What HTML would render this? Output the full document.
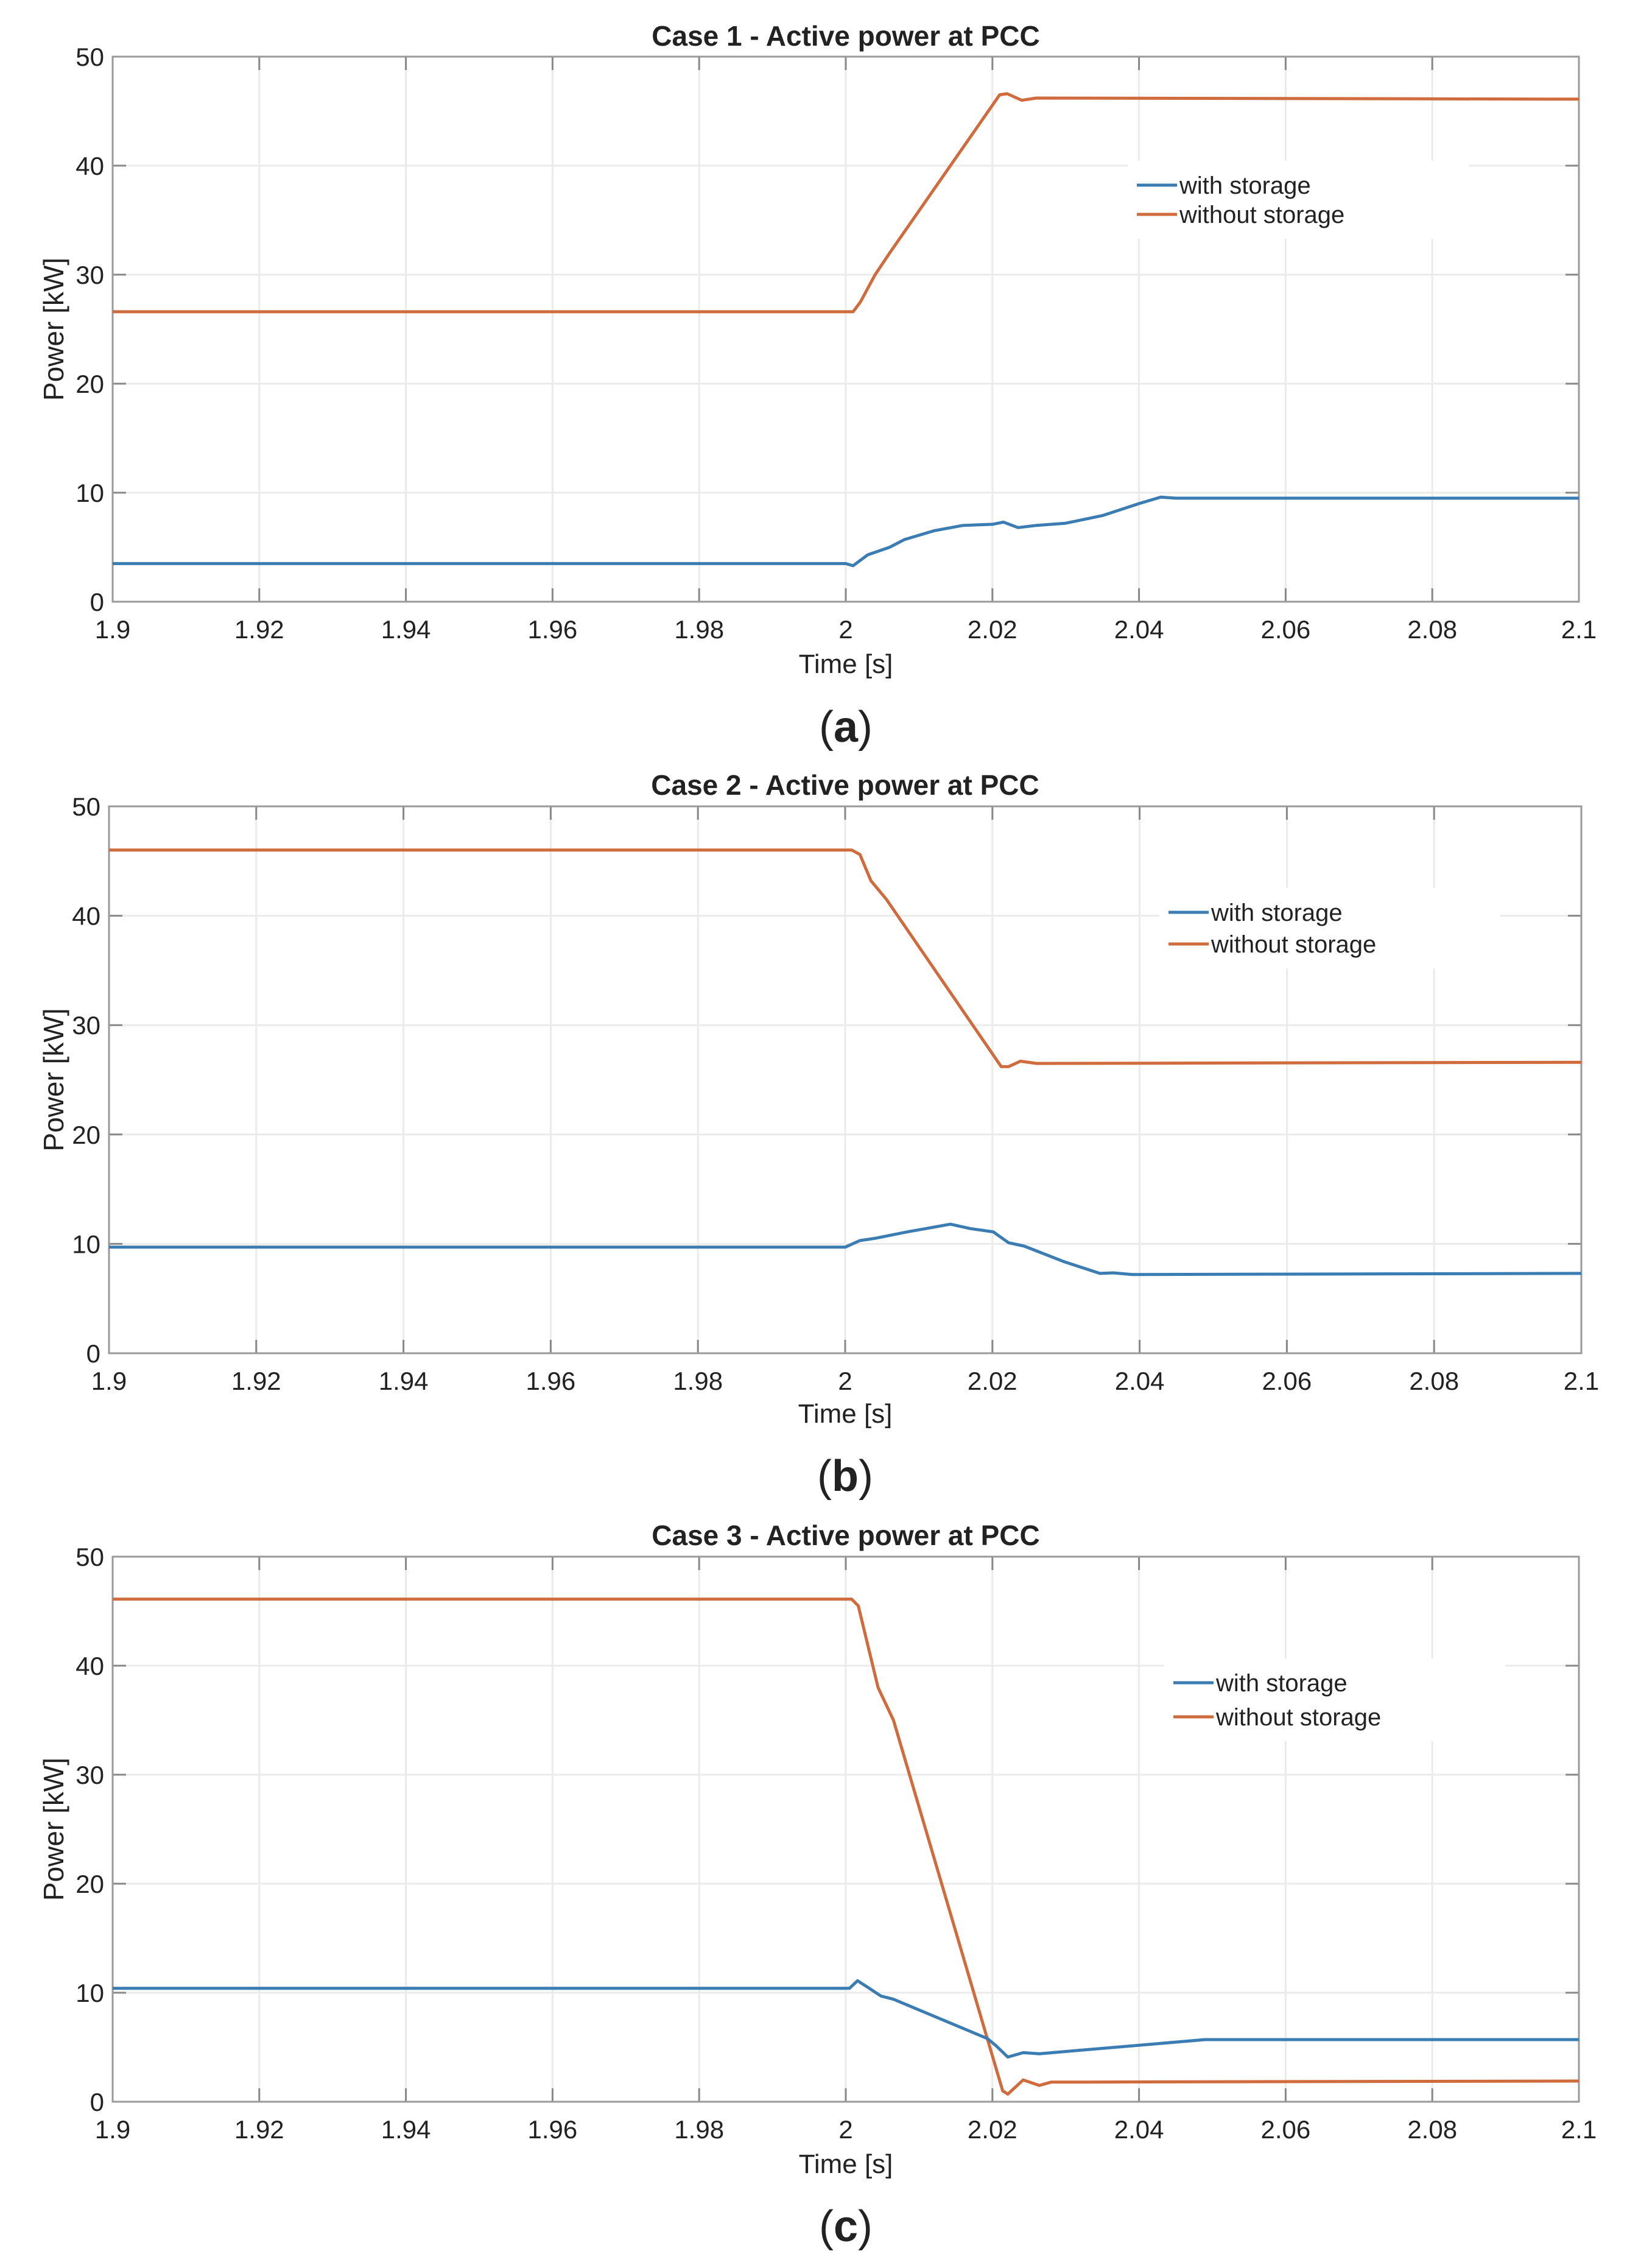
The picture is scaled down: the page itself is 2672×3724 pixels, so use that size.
<!DOCTYPE html>
<html><head><meta charset="utf-8"><style>
html,body{margin:0;padding:0;background:#fff;}
svg{display:block;}
text{font-family:"Liberation Sans",sans-serif;fill:#222;}
</style></head><body>
<svg id="fig" width="2672" height="3724" viewBox="0 0 2672 3724" xmlns="http://www.w3.org/2000/svg"></svg>
<script>
// ---- data ----
const xTicks = [1.9,1.92,1.94,1.96,1.98,2,2.02,2.04,2.06,2.08,2.1];
const xTickLabels = ["1.9","1.92","1.94","1.96","1.98","2","2.02","2.04","2.06","2.08","2.1"];
const yTicks = [0,10,20,30,40,50];
const yTickLabels = ["0","10","20","30","40","50"];
const seriesNames = ["with storage","without storage"];

const caseA_withT = [1.9,2.0,2.001,2.003,2.006,2.008,2.012,2.016,2.02,2.0215,2.0235,2.026,2.03,2.035,2.04,2.043,2.045,2.1];
const caseA_withP = [3.5,3.5,3.3,4.3,5.0,5.7,6.5,7.0,7.1,7.3,6.8,7.0,7.2,7.9,9.0,9.6,9.5,9.5];
const caseA_woT = [1.9,2.001,2.002,2.004,2.006,2.021,2.022,2.024,2.026,2.1];
const caseA_woP = [26.6,26.6,27.5,30,32,46.5,46.6,46.0,46.2,46.1];

const caseB_withT = [1.9,2.0,2.002,2.004,2.0085,2.0143,2.017,2.0201,2.0222,2.0243,2.0296,2.0346,2.0364,2.039,2.1];
const caseB_withP = [9.7,9.7,10.3,10.5,11.1,11.8,11.4,11.1,10.1,9.8,8.4,7.3,7.35,7.2,7.3];
const caseB_woT = [1.9,2.0009,2.002,2.0035,2.0056,2.0212,2.0222,2.0238,2.026,2.1];
const caseB_woP = [46,46,45.6,43.2,41.5,26.2,26.2,26.7,26.5,26.6];

const caseC_withT = [1.9,2.0005,2.0016,2.003,2.0048,2.0065,2.0193,2.0204,2.0221,2.0242,2.0264,2.049,2.1];
const caseC_withP = [10.4,10.4,11.1,10.5,9.7,9.4,5.8,5.2,4.1,4.5,4.4,5.7,5.7];
const caseC_woT = [1.9,2.0008,2.0017,2.0044,2.0065,2.0214,2.0221,2.0242,2.0264,2.028,2.1];
const caseC_woP = [46.1,46.1,45.5,38,35,1.0,0.7,2.0,1.5,1.8,1.9];

// ---- layout ----
const NS="http://www.w3.org/2000/svg";
const svg=document.getElementById('fig');
function mk(tag,attrs,parent){const e=document.createElementNS(NS,tag);for(const k in attrs)e.setAttribute(k,attrs[k]);(parent||svg).appendChild(e);return e;}
const BLUE="#3b7db3", ORANGE="#cf6b3c";

const panels=[
 {id:'a',title:"Case 1 - Active power at PCC",L:185,R:2593,T:93,B:988,titleY:75,xlabY:1105,capY:1218,legX:1867,legY:[304,352],
  wT:caseA_withT,wP:caseA_withP,oT:caseA_woT,oP:caseA_woP},
 {id:'b',title:"Case 2 - Active power at PCC",L:179,R:2597,T:1324,B:2222,titleY:1305,xlabY:2336,capY:2448,legX:1919,legY:[1498,1550],
  wT:caseB_withT,wP:caseB_withP,oT:caseB_woT,oP:caseB_woP},
 {id:'c',title:"Case 3 - Active power at PCC",L:185,R:2593,T:2556,B:3451,titleY:2537,xlabY:3568,capY:3680,legX:1927,legY:[2763,2819],
  wT:caseC_withT,wP:caseC_withP,oT:caseC_woT,oP:caseC_woP}
];

panels.forEach(p=>{
  const g=mk('g',{});
  
  
  const xs=t=>p.L+(t-1.9)/0.2*(p.R-p.L);
  const ys=v=>p.B-v/50*(p.B-p.T);
  // grid
  xTicks.forEach((t,i)=>{
    const x=xs(t);
    if(i>0&&i<xTicks.length-1){const gl=mk('line',{x1:x,x2:x,y1:p.T,y2:p.B,stroke:'#ebebeb','stroke-width':3},g);
      }
    mk('line',{x1:x,x2:x,y1:p.B,y2:p.B-22,stroke:'#888','stroke-width':3},g);
    mk('line',{x1:x,x2:x,y1:p.T,y2:p.T+22,stroke:'#888','stroke-width':3},g);
    const tl=mk('text',{x:x,y:p.B+60,'font-size':42,'text-anchor':'middle'},g);tl.textContent=xTickLabels[i];
    
  });
  yTicks.forEach((v,i)=>{
    const y=ys(v);
    if(i>0&&i<yTicks.length-1){const gl=mk('line',{x1:p.L,x2:p.R,y1:y,y2:y,stroke:'#ebebeb','stroke-width':3},g);
      }
    mk('line',{x1:p.L,x2:p.L+22,y1:y,y2:y,stroke:'#888','stroke-width':3},g);
    mk('line',{x1:p.R,x2:p.R-22,y1:y,y2:y,stroke:'#888','stroke-width':3},g);
    const tl=mk('text',{x:p.L-14,y:y+15,'font-size':42,'text-anchor':'end'},g);tl.textContent=yTickLabels[i];
    
  });
  const box=mk('rect',{x:p.L,y:p.T,width:p.R-p.L,height:p.B-p.T,fill:'none',stroke:'#9a9a9a','stroke-width':3},g);
  
  // series
  const draw=(T,P,c,name)=>{
    const d=T.map((t,i)=>(i?'L':'M')+xs(t).toFixed(1)+','+ys(P[i]).toFixed(1)).join(' ');
    const pl=mk('path',{d:d,fill:'none',stroke:c,'stroke-width':5,'stroke-linejoin':'round'},g);
    
  };
  draw(p.oT,p.oP,ORANGE,'line-without-storage');
  draw(p.wT,p.wP,BLUE,'line-with-storage');
  // legend
  const lg=mk('g',{},g);
  
  mk('rect',{x:p.legX-15,y:p.legY[0]-40,width:560,height:p.legY[1]-p.legY[0]+80,fill:'#fff'},lg);
  [BLUE,ORANGE].forEach((c,i)=>{
    mk('line',{x1:p.legX,x2:p.legX+66,y1:p.legY[i],y2:p.legY[i],stroke:c,'stroke-width':5},lg);
    const t=mk('text',{x:p.legX+70,y:p.legY[i]+14,'font-size':40},lg);t.textContent=seriesNames[i];
    
  });
  // titles
  const cx=(p.L+p.R)/2;
  const ti=mk('text',{x:cx,y:p.titleY,'font-size':46,'font-weight':'bold','text-anchor':'middle',fill:'#111'},g);ti.textContent=p.title;
  
  const xl=mk('text',{x:cx,y:p.xlabY,'font-size':44,'text-anchor':'middle'},g);xl.textContent="Time [s]";
  
  const ymid=(p.T+p.B)/2;
  const yl=mk('text',{x:0,y:0,'font-size':46,'text-anchor':'middle',transform:`translate(104,${ymid}) rotate(-90)`},g);yl.textContent="Power [kW]";
  
  const cap=mk('text',{x:cx,y:p.capY,'font-size':72,'text-anchor':'middle','font-family':'"Liberation Serif",serif',fill:'#000'},g);
  
  cap.appendChild(document.createTextNode('('));
  const b=mk('tspan',{'font-weight':'bold'},cap);b.textContent=p.id;
  cap.appendChild(document.createTextNode(')'));
});
</script>
</body></html>
